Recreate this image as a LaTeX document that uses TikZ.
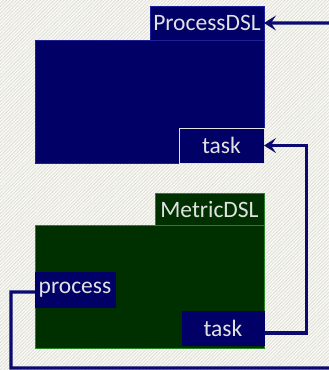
\documentclass[tikz,border=0pt]{standalone}
\usepackage{fontspec}
\setmainfont{Carlito}
\usetikzlibrary{arrows.meta,patterns.meta}
\definecolor{navy}{RGB}{0,0,102}
\definecolor{navyedge}{RGB}{30,30,150}
\definecolor{forest}{RGB}{0,48,0}
\definecolor{forestedge}{RGB}{40,130,40}
\definecolor{wirecol}{RGB}{10,10,112}
\definecolor{labelcol}{RGB}{226,226,226}
\definecolor{paper}{RGB}{248,248,245}
\definecolor{hatch}{RGB}{218,218,206}
\tikzset{
  pkg/.style={draw, line width=1bp, inner sep=0pt, outer sep=0pt,
    anchor=north west, text=labelcol, font=\fontsize{23.5bp}{28bp}\selectfont},
  procpkg/.style={pkg, fill=navy, draw=navyedge},
  metpkg/.style={pkg, fill=forest, draw=forestedge},
  port/.style={pkg, fill=navy, draw=navy},
  wire/.style={draw=wirecol, line width=3.2bp},
  tip/.style={-{Stealth[length=12bp,width=15bp,inset=5bp]}}
}
\begin{document}
\begin{tikzpicture}[x=1bp,y=-1bp]
  \useasboundingbox (0,0) rectangle (329,370);
  \clip (0,0) rectangle (329,370);
  % hatched paper
  \fill[paper] (0,0) rectangle (329,370);
  \fill[pattern={Lines[angle=45,distance=2.4bp,line width=0.6bp]}, pattern color=hatch]
    (0,0) rectangle (329,370);

  % ProcessDSL package
  \node[procpkg, minimum width=229bp, minimum height=123bp] (pbody) at (35,40) {};
  \node[procpkg, minimum width=114bp, minimum height=34bp] (ptab) at (150,6) {ProcessDSL};
  \node[port, draw=labelcol, line width=0.8bp, minimum width=85bp, minimum height=35bp]
    (ptask) at (179,128) {task};

  % MetricDSL package
  \node[metpkg, minimum width=229bp, minimum height=123bp] (mbody) at (35,225) {};
  \node[metpkg, minimum width=109bp, minimum height=32bp] (mtab) at (155,193) {MetricDSL};
  \node[port, minimum width=80bp, minimum height=35bp] (mproc) at (35,272) {process};
  \node[port, minimum width=82bp, minimum height=34bp] (mtask) at (182,311) {task};

  % connectors
  \draw[wire, tip] ([yshift=-5bp]mtask.east) -- ++(42.5,0) |- (ptask.east);
  \draw[wire, tip] ([yshift=-2.5bp]mproc.west) -- (11,292) |- (345,368) |- (ptab.east);
\end{tikzpicture}
\end{document}
